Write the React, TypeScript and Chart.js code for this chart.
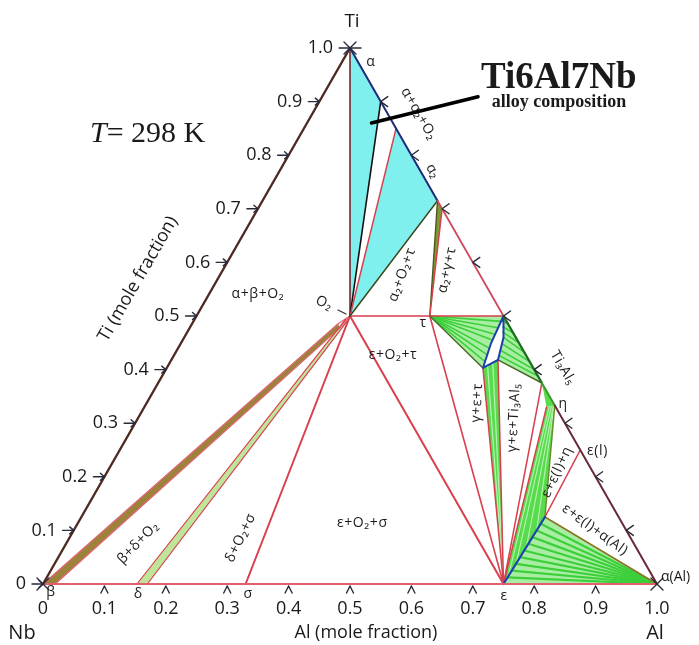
import React, { useEffect, useRef } from 'react';
import { Chart, registerables } from 'chart.js';

Chart.register(...registerables);

type P = [number, number]; // [x(Al), x(Ti)] ; x(Nb) = 1 - Al - Ti

// ---- phase compositions (mole fraction Al, Ti) ----
const NB: P = [0, 0];
const AL: P = [1, 0];
const TI: P = [0, 1];
const O2: P = [0.25, 0.5];
const TAU: P = [0.38, 0.5];
const GAMMA: P = [0.5, 0.5];
const GAMMA_LM: P = [0.505, 0.45];
const GAMMA_BL: P = [0.515, 0.403];
const GAMMA_BR: P = [0.532, 0.418];
const GAMMA_RM: P = [0.52, 0.46];
const EPS: P = [0.75, 0];
const SIGMA: P = [0.33, 0];
const DELTA_L: P = [0.153, 0];
const DELTA_R: P = [0.17, 0];
const BETA_R: P = [0.02, 0];
const ALPHA_END: P = [0.1, 0.9];
const ALPHA2_START: P = [0.15, 0.85];
const ALPHA2: P = [0.285, 0.715];
const ALPHA2_B: P = [0.3, 0.7];
const TI3AL5: P = [0.625, 0.375];
const ETA: P = [0.667, 0.333];
const ETA_IN: P = [0.655, 0.33];
const EPS_Q: P = [0.755, 0.125];
const EPS_L: P = [0.75, 0.25];
const O2_B1: P = [0.238, 0.486];
const O2_B2: P = [0.244, 0.477];
const O2_D1: P = [0.246, 0.494];
const O2_D2: P = [0.25, 0.49];
const ALLOY: P = [0.105, 0.86];
const ALLOY_TAG: P = [0.254, 0.909];

// ---- tie-line end points ----
const tieGammaTau: P[] = [[0.501, 0.49], [0.502, 0.478], [0.503, 0.466], [0.504, 0.455], [0.507, 0.44], [0.509, 0.428], [0.511, 0.416]];
const tieGammaEps: P[] = [[0.52, 0.408], [0.526, 0.413]];
const tieGammaTi3Al5: [P, P][] = [
  [[0.504, 0.49], [0.515, 0.485]],
  [[0.509, 0.48], [0.532, 0.468]],
  [[0.514, 0.47], [0.55, 0.45]],
  [[0.52, 0.46], [0.568, 0.432]],
  [[0.524, 0.448], [0.585, 0.415]],
  [[0.527, 0.436], [0.6, 0.4]],
  [[0.53, 0.426], [0.612, 0.388]],
];
const tieEtaEps: [P, P][] = [
  [[0.659, 0.331], [0.7505, 0.015]],
  [[0.662, 0.332], [0.751, 0.04]],
  [[0.665, 0.3325], [0.7525, 0.07]],
  [[0.666, 0.333], [0.754, 0.1]],
];
const tieEpsAl: P[] = [[0.7505, 0.0125], [0.751, 0.025], [0.7515, 0.0375], [0.752, 0.05], [0.7525, 0.0625], [0.753, 0.075], [0.7535, 0.0875], [0.754, 0.1], [0.7545, 0.1125]];

// ---- axis ticks ----
const axisTicks = [0, 0.1, 0.2, 0.3, 0.4, 0.5, 0.6, 0.7, 0.8, 0.9, 1.0];
const axisTickLabels = ['0', '0.1', '0.2', '0.3', '0.4', '0.5', '0.6', '0.7', '0.8', '0.9', '1.0'];

// ---- phase-field labels: [text, plane x, plane y, rotation deg] ----
const phaseLabels: [string, number, number, number][] = [
  ['α', 0.534, 0.974, 0],
  ['α+α₂+O₂', 0.612, 0.877, 60],
  ['α₂', 0.635, 0.77, 60],
  ['O₂', 0.458, 0.524, 25],
  ['α+β+O₂', 0.35, 0.541, 0],
  ['α₂+O₂+τ', 0.585, 0.577, -70],
  ['α₂+γ+τ', 0.658, 0.586, -78],
  ['ε+O₂+τ', 0.57, 0.427, 0],
  ['γ+ε+τ', 0.707, 0.338, -87],
  ['γ+ε+Ti₃Al₅', 0.767, 0.31, -87],
  ['Ti₃Al₅', 0.847, 0.403, 60],
  ['η', 0.847, 0.336, 0],
  ['ε(l)', 0.903, 0.248, 0],
  ['ε+ε(l)+η', 0.837, 0.209, -65],
  ['ε+ε(l)+α(Al)', 0.899, 0.101, 36],
  ['ε+O₂+σ', 0.52, 0.114, 0],
  ['δ+O₂+σ', 0.322, 0.086, -64],
  ['β+δ+O₂', 0.155, 0.077, -46],
  ['β', 0.013, -0.015, 0],
  ['δ', 0.155, -0.019, 0],
  ['σ', 0.334, -0.019, 0],
  ['ε', 0.751, -0.022, 0],
  ['τ', 0.619, 0.487, 0],
];

const RED = '#d8404e';
const PINK = '#e26676';
const CYAN = '#80f0ee';
const GREEN_BASE = '#a8eea2';
const GREEN_SOLID = '#58dc4e';
const GREEN_LINE = '#3ccf3a';
const LIGHT_LINE = '#b8f4b2';

const tern = (p: P) => ({ x: p[0] + p[1] / 2, y: p[1] });

const line = (pts: P[], color: string, width: number) => ({
  data: pts.map(tern),
  showLine: true,
  borderColor: color,
  backgroundColor: color,
  borderWidth: width,
  pointRadius: 0,
  pointHoverRadius: 0,
  fill: false,
  clip: false,
  borderCapStyle: 'round',
  borderJoinStyle: 'round',
});

const poly = (pts: P[], color: string) => ({
  data: pts.map(tern),
  showLine: false,
  pointRadius: 0,
  pointHoverRadius: 0,
  clip: false,
  polyFill: color,
});

function buildDatasets() {
  const bottomToTop: any[] = [];
  // filled fields
  bottomToTop.push(poly([TI, ALPHA_END, O2], CYAN));
  bottomToTop.push(poly([ALPHA2_START, ALPHA2, O2], CYAN));
  bottomToTop.push(poly([NB, BETA_R, O2_B2, O2_B1], '#9c823a'));
  bottomToTop.push(poly([DELTA_L, DELTA_R, O2_D2, O2_D1], '#bfe59a'));
  bottomToTop.push(poly([ALPHA2, ALPHA2_B, TAU], '#7f9a34'));
  bottomToTop.push(poly([TAU, GAMMA, GAMMA_LM, GAMMA_BL], GREEN_BASE));
  bottomToTop.push(poly([GAMMA_BL, GAMMA_BR, EPS], GREEN_SOLID));
  bottomToTop.push(poly([GAMMA, TI3AL5, GAMMA_BR, GAMMA_RM], GREEN_BASE));
  bottomToTop.push(poly([TI3AL5, ETA, ETA_IN], GREEN_SOLID));
  bottomToTop.push(poly([EPS, ETA_IN, ETA, EPS_Q], GREEN_SOLID));
  bottomToTop.push(poly([EPS, EPS_Q, AL], GREEN_BASE));

  // tie lines
  tieGammaTau.forEach((p) => bottomToTop.push(line([TAU, p], GREEN_LINE, 1.6)));
  tieGammaEps.forEach((p) => bottomToTop.push(line([p, EPS], LIGHT_LINE, 1.2)));
  tieGammaTi3Al5.forEach((s) => bottomToTop.push(line(s, GREEN_LINE, 1.6)));
  tieEtaEps.forEach((s) => bottomToTop.push(line(s, LIGHT_LINE, 1.1)));
  tieEpsAl.forEach((p) => bottomToTop.push(line([p, AL], GREEN_LINE, 2.2)));

  // phase boundaries
  bottomToTop.push(line([NB, O2_B1], PINK, 1.2));
  bottomToTop.push(line([BETA_R, O2_B2], PINK, 1.2));
  bottomToTop.push(line([O2_B1, O2], PINK, 1.2));
  bottomToTop.push(line([O2_B2, O2], PINK, 1.2));
  bottomToTop.push(line([DELTA_L, O2_D1], RED, 1.2));
  bottomToTop.push(line([DELTA_R, O2_D2], RED, 1.2));
  bottomToTop.push(line([O2, SIGMA], RED, 2));
  bottomToTop.push(line([O2, EPS], RED, 2));
  bottomToTop.push(line([O2, GAMMA], RED, 1.6));
  bottomToTop.push(line([TAU, EPS], RED, 1.6));
  bottomToTop.push(line([TAU, GAMMA_BL], '#4a6a24', 1.5));
  bottomToTop.push(line([GAMMA_BL, EPS], RED, 1.5));
  bottomToTop.push(line([GAMMA_BR, EPS], RED, 1.5));
  bottomToTop.push(line([GAMMA_BR, TI3AL5], '#4a6a24', 1.5));
  bottomToTop.push(line([TI3AL5, EPS], RED, 1.5));
  bottomToTop.push(line([ETA_IN, EPS], RED, 1.5));
  bottomToTop.push(line([ETA, EPS_Q], '#6a8a2a', 1.4));
  bottomToTop.push(line([EPS_Q, EPS_L], RED, 1.6));
  bottomToTop.push(line([EPS_Q, AL], '#8a7424', 1.6));
  bottomToTop.push(line([EPS, EPS_Q], '#1f3fb0', 2.2));
  bottomToTop.push(line([GAMMA, GAMMA_LM, GAMMA_BL, GAMMA_BR, GAMMA_RM, GAMMA], '#1f3fb0', 2));
  bottomToTop.push(line([TI, O2], '#7a2a30', 1.6));
  bottomToTop.push(line([ALPHA_END, O2], '#111111', 1.6));
  bottomToTop.push(line([ALPHA2_START, O2], RED, 1.5));
  bottomToTop.push(line([ALPHA2, O2], '#3a4a20', 1.5));
  bottomToTop.push(line([ALPHA2, TAU], '#4a5a1c', 1.4));
  bottomToTop.push(line([ALPHA2_B, TAU], RED, 1.5));

  // triangle edges
  bottomToTop.push(line([NB, AL], '#e0606e', 2));
  bottomToTop.push(line([NB, TI], '#4e2a22', 2.4));
  bottomToTop.push(line([TI, ALPHA_END, ALPHA2_START, ALPHA2], '#1f2a7a', 2));
  bottomToTop.push(line([ALPHA2, GAMMA], '#cc4a5a', 1.8));
  bottomToTop.push(line([GAMMA, TI3AL5], '#1f6f1f', 2.4));
  bottomToTop.push(line([TI3AL5, ETA], '#3a9a2a', 2));
  bottomToTop.push(line([ETA, AL], '#6a2a38', 2));

  // alloy composition pointer
  bottomToTop.push(line([ALLOY_TAG, ALLOY], '#000000', 3.5));

  return bottomToTop.reverse();
}

const polygonFill = {
  id: 'polygonFill',
  beforeDatasetsDraw(chart: any) {
    const ctx = chart.ctx;
    const n = chart.data.datasets.length;
    for (let i = n - 1; i >= 0; i--) {
      const ds: any = chart.data.datasets[i];
      if (!ds.polyFill) continue;
      const pts = chart.getDatasetMeta(i).data;
      ctx.save();
      ctx.beginPath();
      pts.forEach((pt: any, j: number) => (j ? ctx.lineTo(pt.x, pt.y) : ctx.moveTo(pt.x, pt.y)));
      ctx.closePath();
      ctx.fillStyle = ds.polyFill;
      ctx.fill();
      ctx.restore();
    }
  },
};

const SANS = '"Open Sans", "DejaVu Sans", sans-serif';
const SERIF = '"Liberation Serif", "DejaVu Serif", serif';

const overlay = {
  id: 'overlay',
  afterDraw(chart: any) {
    const ctx = chart.ctx;
    const sx = chart.scales.x;
    const sy = chart.scales.y;
    const px = (x: number) => sx.getPixelForValue(x);
    const py = (y: number) => sy.getPixelForValue(y);
    const T = (p: P) => [px(p[0] + p[1] / 2), py(p[1])];

    const stroke = (segs: number[][], color: string, w: number) => {
      ctx.save();
      ctx.strokeStyle = color;
      ctx.lineWidth = w;
      ctx.lineCap = 'round';
      ctx.beginPath();
      segs.forEach((s) => { ctx.moveTo(s[0], s[1]); ctx.lineTo(s[2], s[3]); });
      ctx.stroke();
      ctx.restore();
    };
    const text = (s: string, x: number, y: number, font: string, align: string, rot = 0, base = 'middle', spacing = '0px') => {
      ctx.save();
      ctx.translate(x, y);
      ctx.rotate((rot * Math.PI) / 180);
      ctx.font = font;
      ctx.textAlign = align;
      ctx.textBaseline = base;
      ctx.fillStyle = '#1a1a1a';
      try { (ctx as any).letterSpacing = spacing; } catch (e) { /* ignore */ }
      ctx.fillText(s, 0, 0);
      ctx.restore();
    };

    const tickCol = '#2a2a3a';
    // bottom (Al) ticks
    axisTicks.forEach((v, i) => {
      const [x, y] = T([v, 0]);
      if (v > 0 && v < 1) stroke([[x, y + 2, x - 3.5, y + 9], [x, y + 2, x + 3.5, y + 9]], tickCol, 1.4);
      text(axisTickLabels[i], x, y + 25, `500 18px ${SANS}`, 'center');
    });
    // left (Ti) ticks
    axisTicks.forEach((v, i) => {
      const [x, y] = T([0, v]);
      if (v < 1) stroke([[x - 11, y, x, y], [x - 4, y - 3.5, x, y], [x - 4, y + 3.5, x, y]], tickCol, 1.4);
      text(axisTickLabels[i], x - 17, y, `500 18px ${SANS}`, 'right');
    });
    // right edge ticks
    axisTicks.forEach((v) => {
      if (v <= 0 || v >= 1) return;
      const [x, y] = T([1 - v, v]);
      stroke([[x, y, x + 7, y - 5], [x, y, x + 7, y + 5]], tickCol, 1.4);
    });
    // corner marks
    [NB, AL, TI].forEach((c) => {
      const [x, y] = T(c);
      stroke([[x - 6, y - 6, x + 6, y + 6], [x - 6, y + 6, x + 6, y - 6]], tickCol, 1.4);
    });
    {
      const [x, y] = T(TI);
      stroke([[x - 11, y, x + 11, y]], tickCol, 1.4);
    }
    // O2 leader
    {
      const [x, y] = T(O2);
      stroke([[x - 12, y - 6, x - 4, y - 2]], '#333', 1.2);
    }

    // axis titles
    text('Ti', px(0.5033), py(1.0485), `500 19px ${SANS}`, 'center');
    text('Nb', px(-0.0342), py(-0.0914), `500 20px ${SANS}`, 'center');
    text('Al', px(0.9967), py(-0.0914), `500 20px ${SANS}`, 'center');
    text('Al (mole fraction)', px(0.526), py(-0.0914), `500 18px ${SANS}`, 'center');
    text('Ti (mole fraction)', px(0.1547), py(0.569), `500 18px ${SANS}`, 'center', -60);

    // temperature
    {
      const x0 = px(0.0765);
      const y0 = py(0.8396);
      ctx.save();
      ctx.font = `italic 30px ${SERIF}`;
      const w = ctx.measureText('T').width;
      ctx.restore();
      text('T', x0, y0, `italic 30px ${SERIF}`, 'left');
      text('= 298 K', x0 + w, y0, `30px ${SERIF}`, 'left');
    }
    // alloy annotation
    text('Ti6Al7Nb', px(0.84), py(0.9254), `bold 37px ${SERIF}`, 'center', 0, 'alphabetic');
    text('alloy composition', px(0.8404), py(0.8899), `bold 18px ${SERIF}`, 'center', 0, 'alphabetic');

    // phase labels
    phaseLabels.forEach(([s, x, y, r]) => text(s, px(x), py(y), `14px ${SANS}`, 'center', r, 'middle', '0.6px'));
    text('α(Al)', px(1.0065), py(0.013), `14px ${SANS}`, 'left');
  },
};

export default function App() {
  const ref = useRef<HTMLCanvasElement>(null);
  useEffect(() => {
    if (!ref.current) return;
    const chart = new Chart(ref.current, {
      type: 'scatter',
      data: { datasets: buildDatasets() as any },
      options: {
        animation: false,
        responsive: false,
        events: [],
        layout: { padding: { left: 43, right: 42, top: 48, bottom: 61 } },
        scales: {
          x: { type: 'linear', min: 0, max: 1, display: false },
          y: { type: 'linear', min: 0, max: 1, display: false },
        },
        plugins: { legend: { display: false }, tooltip: { enabled: false } },
      } as any,
      plugins: [polygonFill, overlay] as any,
    });
    return () => chart.destroy();
  }, []);
  return (
    <div style={{ position: 'absolute', left: 0, top: 0, width: 699, height: 645, background: '#ffffff' }}>
      <canvas ref={ref} width={699} height={645} style={{ display: 'block' }} />
    </div>
  );
}
